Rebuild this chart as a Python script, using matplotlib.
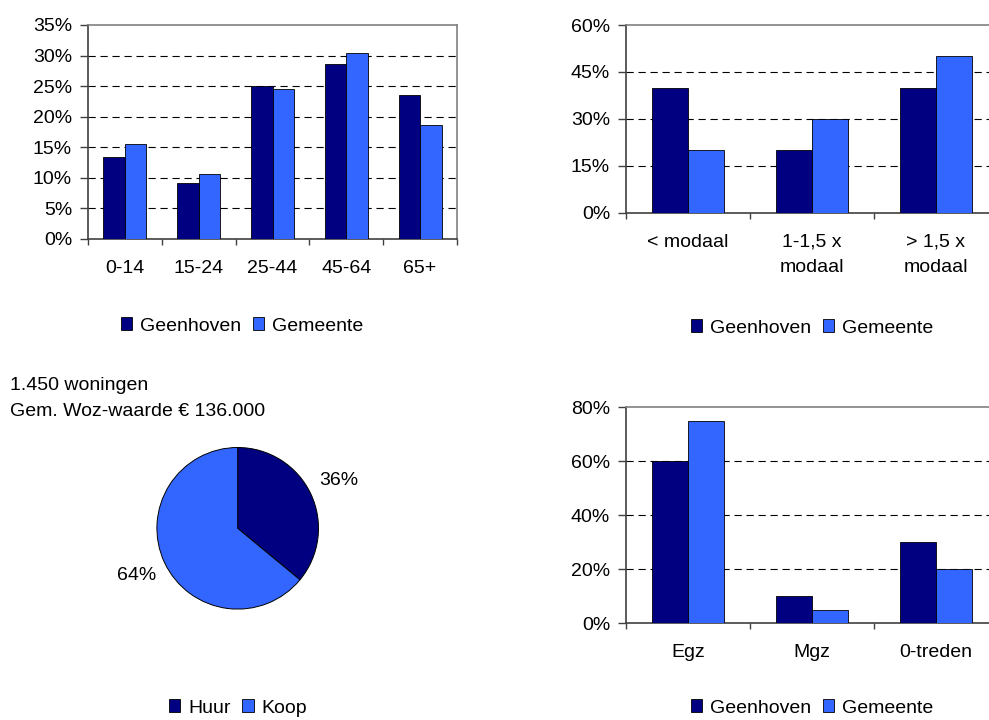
import matplotlib.pyplot as plt
from matplotlib.patches import Patch
from matplotlib.ticker import FixedLocator, FuncFormatter

plt.rcParams['font.family'] = ['Liberation Sans', 'DejaVu Sans']
plt.rcParams['font.size'] = 14

NAVY = '#000080'
BLUE = '#3366FF'
series = ['Geenhoven', 'Gemeente']

# leeftijdsopbouw
age_groups = ['0-14', '15-24', '25-44', '45-64', '65+']
age_geenhoven = [13.4, 9.1, 25.1, 28.7, 23.5]
age_gemeente = [15.6, 10.7, 24.5, 30.4, 18.6]

# inkomen
income_groups = ['< modaal', '1-1,5 x\nmodaal', '> 1,5 x\nmodaal']
income_geenhoven = [40, 20, 40]
income_gemeente = [20, 30, 50]

# woningvoorraad
tenure = ['Huur', 'Koop']
tenure_share = [36, 64]
info_lines = ['1.450 woningen', 'Gem. Woz-waarde € 136.000']

# woningtype
house_types = ['Egz', 'Mgz', '0-treden']
house_geenhoven = [60, 10, 30]
house_gemeente = [75, 5, 20]

W, H = 989, 720
fig = plt.figure(figsize=(W / 100, H / 100), dpi=100)


def px_axes(left, top, right, bottom):
    return fig.add_axes([left / W, 1 - bottom / H, (right - left) / W, (bottom - top) / H])


def bar_panel(ax, cats, a, b, ymax, step):
    n = len(cats)
    x = list(range(n))
    w = 0.29
    ax.bar([i - w / 2 for i in x], a, w, color=NAVY, edgecolor='black', linewidth=0.6, zorder=3)
    ax.bar([i + w / 2 for i in x], b, w, color=BLUE, edgecolor='black', linewidth=0.6, zorder=3)
    ax.set_xlim(-0.5, n - 0.5)
    ax.set_ylim(0, ymax)
    yt = list(range(0, ymax + 1, step))
    ax.set_yticks(yt)
    ax.yaxis.set_major_formatter(FuncFormatter(lambda v, p: f'{v:.0f}%'))
    for v in yt[1:-1]:
        ax.axhline(v, color='black', lw=0.8, ls=(0, (6.5, 4.3)), zorder=1)
    ax.set_xticks(x)
    ax.set_xticklabels(cats, linespacing=1.65)
    ax.xaxis.set_minor_locator(FixedLocator([i - 0.5 for i in range(n + 1)]))
    ax.tick_params(axis='x', which='major', length=0, pad=15)
    ax.tick_params(axis='x', which='minor', length=4.5, width=1, color='#404040', direction='out')
    ax.tick_params(axis='y', length=5.5, width=1, color='#404040', pad=6)
    for s in ('top', 'right'):
        ax.spines[s].set_color('#808080')
        ax.spines[s].set_linewidth(1.2)
    for s in ('left', 'bottom'):
        ax.spines[s].set_color('#404040')
        ax.spines[s].set_linewidth(1.2)
    ax.spines['right'].set_zorder(0)


def bar_legend(cx, cy):
    handles = [Patch(facecolor=NAVY, edgecolor='black', lw=0.6),
               Patch(facecolor=BLUE, edgecolor='black', lw=0.6)]
    fig.legend(handles, series, loc='center', bbox_to_anchor=(cx / W, 1 - cy / H),
               ncol=2, frameon=False, handlelength=0.6, handleheight=0.6,
               handletextpad=0.4, columnspacing=0.6)


ax1 = px_axes(88, 25, 457, 239)
bar_panel(ax1, age_groups, age_geenhoven, age_gemeente, 35, 5)
bar_legend(242, 326)

ax2 = px_axes(626, 25, 998, 212.7)
bar_panel(ax2, income_groups, income_geenhoven, income_gemeente, 60, 15)
bar_legend(812, 328)

ax4 = px_axes(626, 407.3, 998, 623.3)
bar_panel(ax4, house_types, house_geenhoven, house_gemeente, 80, 20)
bar_legend(812, 708)

# taart huur/koop
r = 80.8
cx, cy = 237.7, 528.3
ax3 = px_axes(cx - r, cy - r, cx + r, cy + r)
ax3.pie(tenure_share, colors=[NAVY, BLUE], startangle=90, counterclock=False,
        autopct='%1.0f%%', pctdistance=1.38, radius=1,
        wedgeprops=dict(edgecolor='black', linewidth=0.7),
        textprops=dict(fontsize=14))
ax3.set_xlim(-1, 1)
ax3.set_ylim(-1, 1)
ax3.set_aspect('equal')

fig.text(10 / W, 1 - 385 / H, info_lines[0], va='center', ha='left')
fig.text(10 / W, 1 - 412 / H, info_lines[1], va='center', ha='left')

pie_handles = [Patch(facecolor=NAVY, edgecolor='black', lw=0.6),
               Patch(facecolor=BLUE, edgecolor='black', lw=0.6)]
fig.legend(pie_handles, tenure, loc='center', bbox_to_anchor=(238 / W, 1 - 708 / H),
           ncol=2, frameon=False, handlelength=0.6, handleheight=0.6,
           handletextpad=0.4, columnspacing=0.6)

fig.savefig('out.png', dpi=100)
